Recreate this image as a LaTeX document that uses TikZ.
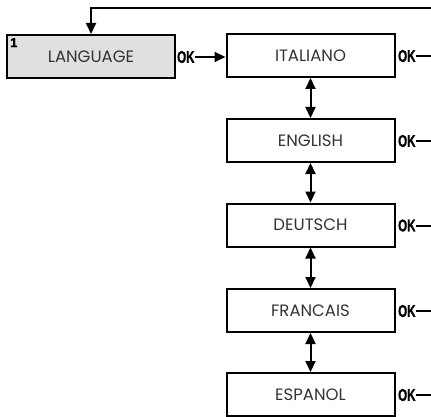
\documentclass[tikz,border=0pt]{standalone}
\usepackage{fontspec}
\setmainfont{Poppins}
\newfontfamily\okfont{Liberation Sans}[BoldFeatures={FakeBold=1.5}]
\usetikzlibrary{arrows.meta}
\definecolor{boxgray}{HTML}{E0E0E0}
\definecolor{txtgray}{HTML}{333333}
\tikzset{
  menubox/.style={draw=black, line width=2pt, minimum width=168pt, minimum height=43pt,
    inner sep=0pt, font=\fontsize{16.5}{18}\selectfont, text=txtgray},
  oklabel/.style={inner sep=0pt, anchor=west, font=\okfont\bfseries\fontsize{17}{18}\selectfont},
  conn/.style={line width=2pt, -{Triangle[length=11pt,width=10pt]}},
  dconn/.style={line width=2pt, {Triangle[length=11pt,width=10pt]}-{Triangle[length=11pt,width=10pt]}},
  plain/.style={line width=2pt}
}
\begin{document}
\begin{tikzpicture}[x=1pt,y=-1pt]
\useasboundingbox (0,0) rectangle (431,417);
\node[menubox, fill=boxgray] (lang) at (91,56.5) {LANGUAGE};
\node[anchor=north west, inner sep=0pt, font=\okfont\bfseries\fontsize{13}{14}\selectfont] (num) at ([xshift=4pt,yshift=-4pt]lang.north west) {1};
\node[oklabel] (ok0) at (177,57) {\scalebox{0.68}[1]{OK}};
\node[menubox] (it) at (310.5,55.5) {ITALIANO};
\node[menubox] (en) at (310.5,140.5) {ENGLISH};
\node[menubox] (de) at (310.5,225) {DEUTSCH};
\node[menubox] (fr) at (310.5,310.5) {FRANCAIS};
\node[menubox] (es) at (310.5,394.5) {ESPANOL};
\foreach \b/\y in {it/56,en/141,de/225.5,fr/311,es/395}{
  \node[oklabel] (ok\b) at (398,\y) {\scalebox{0.68}[1]{OK}};
  \coordinate (end\b) at (431,\y);
  \draw[plain] (ok\b.east) -- (end\b);
}
\draw[conn] (ok0.east) -- (it.west |- ok0.east);
\draw[dconn] (it.south) -- (en.north);
\draw[dconn] (en.south) -- (de.north);
\draw[dconn] (de.south) -- (fr.north);
\draw[dconn] (fr.south) -- (es.north);
\coordinate (topR) at (431,8);
\draw[conn] (topR) -| (lang.north);
\end{tikzpicture}
\end{document}
